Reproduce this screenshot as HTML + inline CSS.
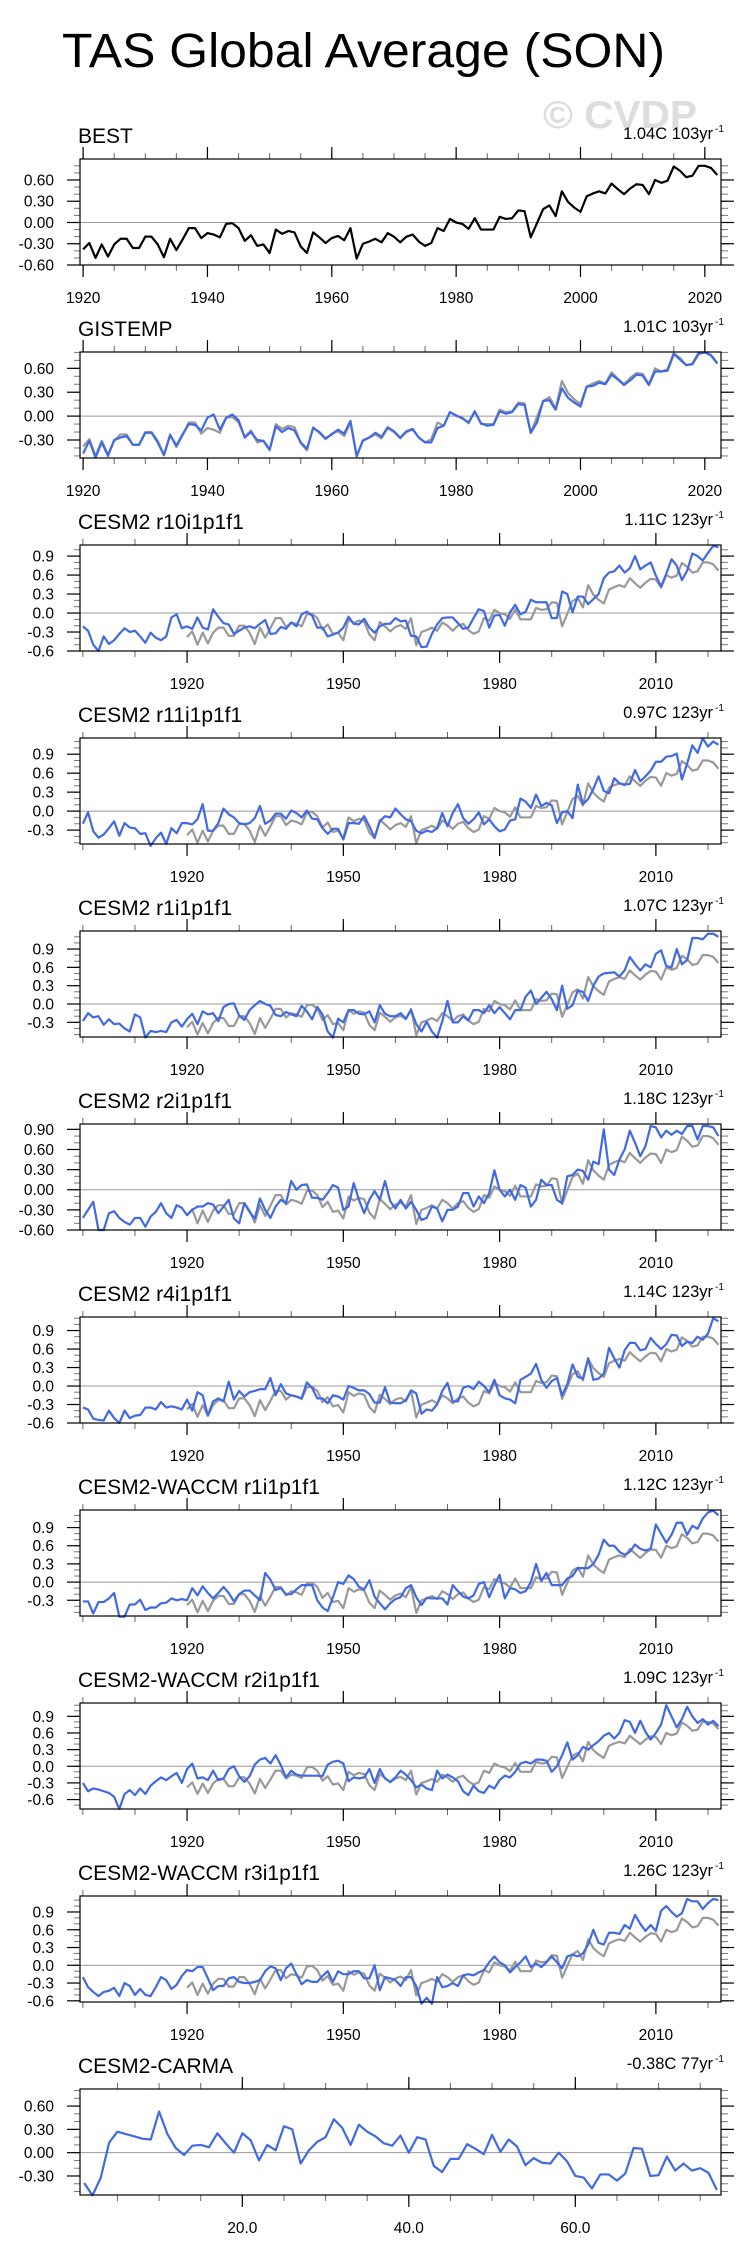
<!DOCTYPE html>
<html><head><meta charset="utf-8"><title>TAS Global Average (SON)</title>
<style>
html,body{margin:0;padding:0;background:#fff;}
svg{display:block;font-family:"Liberation Sans",Arial,sans-serif;}
</style></head>
<body>
<svg id="chart" width="748" height="2265" viewBox="0 0 748 2265" xmlns="http://www.w3.org/2000/svg">
<text x="62" y="67" font-size="48" textLength="603" lengthAdjust="spacingAndGlyphs" fill="#000">TAS Global Average (SON)</text>
<text x="543" y="128" font-size="39" font-weight="bold" fill="#dddddd" textLength="154" lengthAdjust="spacingAndGlyphs">© CVDP</text>
</svg>
<script>
// ---- data ----
const panelTitles = ["BEST","GISTEMP","CESM2 r10i1p1f1","CESM2 r11i1p1f1","CESM2 r1i1p1f1","CESM2 r2i1p1f1","CESM2 r4i1p1f1","CESM2-WACCM r1i1p1f1","CESM2-WACCM r2i1p1f1","CESM2-WACCM r3i1p1f1","CESM2-CARMA"];
const trendValues = ["1.04C 103yr","1.01C 103yr","1.11C 123yr","0.97C 123yr","1.07C 123yr","1.18C 123yr","1.14C 123yr","1.12C 123yr","1.09C 123yr","1.26C 123yr","-0.38C 77yr"];
const obsStartYear = 1920;
const modelStartYear = 1900;
const bestValues = [-0.38,-0.29,-0.50,-0.31,-0.48,-0.31,-0.23,-0.23,-0.36,-0.36,-0.20,-0.20,-0.31,-0.49,-0.23,-0.39,-0.24,-0.08,-0.08,-0.22,
-0.15,-0.17,-0.21,-0.02,-0.01,-0.08,-0.26,-0.18,-0.33,-0.31,-0.43,-0.10,-0.16,-0.12,-0.14,-0.34,-0.43,-0.14,-0.21,-0.29,
-0.22,-0.19,-0.25,-0.08,-0.51,-0.30,-0.27,-0.23,-0.28,-0.15,-0.20,-0.28,-0.20,-0.17,-0.27,-0.33,-0.29,-0.08,-0.12,0.05,
0.00,-0.02,-0.09,0.06,-0.10,-0.10,-0.10,0.08,0.05,0.06,0.17,0.16,-0.21,-0.01,0.19,0.24,0.09,0.44,0.29,0.21,
0.15,0.37,0.41,0.44,0.41,0.55,0.47,0.40,0.48,0.54,0.53,0.40,0.60,0.56,0.59,0.79,0.73,0.64,0.66,0.80,0.80,0.77,0.67];
const gistempValues = [-0.47,-0.31,-0.52,-0.33,-0.50,-0.30,-0.27,-0.25,-0.36,-0.36,-0.21,-0.21,-0.33,-0.49,-0.24,-0.37,-0.23,-0.10,-0.11,-0.18,
-0.02,0.02,-0.17,-0.02,0.02,-0.05,-0.27,-0.20,-0.30,-0.31,-0.42,-0.13,-0.20,-0.15,-0.18,-0.33,-0.41,-0.15,-0.20,-0.28,
-0.23,-0.17,-0.22,-0.06,-0.50,-0.31,-0.27,-0.21,-0.26,-0.14,-0.19,-0.27,-0.19,-0.16,-0.27,-0.33,-0.33,-0.15,-0.12,0.05,
0.01,-0.03,-0.08,0.06,-0.09,-0.12,-0.11,0.06,0.03,0.05,0.15,0.14,-0.21,-0.08,0.19,0.20,0.08,0.35,0.23,0.17,
0.12,0.37,0.38,0.42,0.40,0.52,0.46,0.39,0.45,0.52,0.51,0.39,0.56,0.56,0.57,0.78,0.71,0.64,0.65,0.78,0.80,0.76,0.66];
const r10Values = [-0.21,-0.28,-0.50,-0.60,-0.37,-0.49,-0.43,-0.33,-0.24,-0.30,-0.28,-0.37,-0.47,-0.31,-0.39,-0.43,-0.37,-0.07,-0.02,-0.24,
-0.21,-0.25,-0.07,-0.23,-0.26,0.06,-0.06,-0.16,-0.18,-0.33,-0.28,-0.23,-0.21,-0.24,-0.17,-0.11,-0.33,-0.32,-0.22,-0.25,
-0.15,-0.21,-0.02,0.02,-0.04,-0.23,-0.23,-0.37,-0.34,-0.31,-0.23,-0.06,-0.17,-0.18,-0.09,-0.23,-0.31,-0.21,-0.17,-0.17,
-0.08,-0.13,-0.12,-0.36,-0.37,-0.54,-0.53,-0.33,-0.18,-0.08,-0.07,-0.07,-0.16,-0.25,-0.23,-0.08,0.06,0.03,-0.23,-0.04,
-0.03,-0.20,0.01,0.13,-0.02,0.02,0.21,0.17,0.17,0.17,-0.08,-0.08,0.34,0.30,0.01,0.26,0.26,0.14,0.22,0.30,
0.55,0.64,0.66,0.75,0.64,0.71,0.90,0.69,0.75,0.80,0.59,0.42,0.62,0.85,0.75,0.52,0.67,0.94,0.90,0.83,0.95,1.06,1.04];
const r11Values = [-0.20,-0.02,-0.32,-0.42,-0.37,-0.27,-0.16,-0.39,-0.19,-0.26,-0.27,-0.36,-0.35,-0.55,-0.43,-0.34,-0.52,-0.27,-0.35,-0.19,
-0.19,-0.21,-0.13,0.11,-0.31,-0.31,-0.19,0.04,-0.05,-0.10,-0.19,-0.21,-0.19,-0.11,0.08,-0.20,-0.15,-0.04,-0.04,-0.12,
0.01,-0.03,-0.10,0.01,-0.12,-0.13,-0.27,-0.36,-0.28,-0.28,-0.45,-0.19,-0.19,-0.20,-0.08,-0.24,-0.42,-0.16,-0.08,-0.10,
0.04,-0.05,-0.13,-0.16,-0.31,-0.35,-0.31,-0.33,-0.27,-0.03,-0.24,-0.03,0.11,-0.11,-0.20,-0.13,-0.02,-0.21,-0.13,-0.24,
-0.32,-0.29,-0.15,-0.13,0.20,0.15,0.05,0.26,0.08,0.13,0.09,-0.19,-0.02,0.00,-0.11,0.42,0.11,0.19,0.35,0.55,
0.32,0.28,0.52,0.44,0.42,0.43,0.65,0.47,0.55,0.64,0.78,0.78,0.86,0.87,0.91,0.50,0.75,1.04,0.92,1.15,1.02,1.10,1.05];
const r1Values = [-0.28,-0.15,-0.22,-0.20,-0.34,-0.25,-0.33,-0.32,-0.40,-0.45,-0.17,-0.22,-0.55,-0.44,-0.46,-0.44,-0.46,-0.30,-0.26,-0.37,
-0.25,-0.16,-0.33,-0.12,-0.17,-0.15,-0.28,-0.05,0.00,0.01,-0.19,-0.26,-0.10,-0.02,0.05,0.00,-0.03,-0.18,-0.20,-0.13,
-0.17,-0.20,-0.03,-0.12,-0.25,-0.05,-0.17,-0.45,-0.55,-0.24,-0.30,-0.10,-0.10,-0.16,-0.17,-0.12,-0.30,-0.02,-0.16,-0.20,
-0.20,-0.15,-0.24,-0.10,-0.33,-0.45,-0.29,-0.45,-0.55,-0.28,0.05,-0.30,-0.30,-0.20,-0.27,-0.10,-0.10,-0.15,-0.02,-0.15,
-0.05,-0.15,-0.25,-0.10,-0.10,0.12,0.22,0.00,0.10,0.20,0.08,-0.10,0.30,-0.08,-0.02,0.22,0.20,0.05,0.30,0.45,
0.50,0.51,0.52,0.45,0.55,0.77,0.65,0.55,0.65,0.60,0.82,0.88,0.62,0.60,0.90,0.65,0.72,1.08,1.08,1.06,1.15,1.15,1.10];
const r2Values = [-0.42,-0.30,-0.18,-0.60,-0.60,-0.35,-0.32,-0.42,-0.48,-0.52,-0.42,-0.42,-0.55,-0.40,-0.33,-0.20,-0.35,-0.42,-0.23,-0.27,
-0.38,-0.30,-0.25,-0.25,-0.20,-0.22,-0.35,-0.25,-0.15,-0.43,-0.50,-0.20,-0.33,-0.43,-0.13,-0.30,-0.42,-0.25,-0.15,-0.20,
0.13,0.00,0.07,0.08,-0.12,-0.12,-0.15,-0.05,0.07,0.03,-0.30,-0.25,0.10,-0.15,-0.35,-0.15,-0.02,-0.15,0.13,-0.17,
-0.28,-0.15,-0.28,-0.18,-0.30,-0.45,-0.42,-0.25,-0.28,-0.47,-0.30,-0.30,-0.25,-0.05,-0.05,-0.25,-0.10,-0.20,-0.05,0.29,
0.00,-0.10,0.00,-0.15,0.07,0.03,-0.25,-0.15,0.15,0.07,0.07,-0.15,-0.20,0.20,0.22,0.30,0.28,0.15,0.42,0.38,
0.90,0.30,0.22,0.45,0.60,0.88,0.70,0.50,0.65,0.95,0.93,0.78,0.88,0.82,0.88,0.83,0.95,0.95,0.75,0.95,0.95,0.93,0.80];
const r4Values = [-0.35,-0.38,-0.53,-0.55,-0.56,-0.40,-0.52,-0.60,-0.40,-0.52,-0.48,-0.47,-0.35,-0.35,-0.38,-0.26,-0.35,-0.33,-0.35,-0.38,
-0.22,-0.40,-0.10,-0.15,-0.48,-0.25,-0.20,-0.25,0.07,-0.22,-0.08,-0.17,-0.10,-0.08,-0.05,-0.05,0.13,-0.15,0.03,-0.12,
-0.15,-0.17,-0.20,0.06,-0.03,-0.20,-0.20,-0.28,-0.15,-0.17,-0.22,0.00,-0.03,-0.07,-0.07,-0.13,-0.27,-0.27,-0.02,-0.27,
-0.28,-0.28,-0.23,-0.07,-0.12,-0.45,-0.38,-0.40,-0.30,-0.08,0.05,-0.25,-0.25,-0.03,0.00,-0.05,0.07,0.00,-0.10,0.10,
-0.15,-0.20,-0.22,-0.28,0.10,0.15,0.20,0.36,0.10,-0.03,0.08,0.13,-0.15,0.03,0.35,0.15,0.12,0.45,0.10,0.12,
0.20,0.62,0.45,0.30,0.58,0.70,0.70,0.58,0.60,0.78,0.68,0.60,0.68,0.83,0.82,0.65,0.72,0.70,0.80,0.75,0.85,1.10,1.05];
const waccm1Values = [-0.32,-0.32,-0.52,-0.33,-0.33,-0.27,-0.18,-0.57,-0.57,-0.37,-0.37,-0.29,-0.46,-0.42,-0.42,-0.35,-0.34,-0.27,-0.30,-0.28,
-0.30,-0.10,-0.22,-0.07,-0.18,-0.27,-0.18,-0.08,-0.18,-0.32,-0.20,-0.14,-0.14,-0.22,-0.30,0.15,0.04,-0.13,-0.10,-0.20,
-0.20,-0.12,-0.05,-0.05,-0.05,-0.30,-0.42,-0.48,-0.25,0.00,-0.03,0.11,0.05,-0.08,-0.12,0.03,-0.24,-0.35,-0.45,-0.35,
-0.28,-0.25,-0.10,-0.05,-0.25,-0.38,-0.26,-0.27,-0.27,-0.27,-0.37,-0.05,-0.15,-0.24,-0.27,-0.22,-0.03,0.00,-0.25,-0.05,
0.12,-0.27,-0.10,-0.12,-0.18,-0.15,0.00,0.30,0.02,0.15,-0.05,-0.05,-0.05,0.06,0.10,0.23,0.23,0.23,0.30,0.45,
0.70,0.60,0.60,0.50,0.45,0.50,0.62,0.55,0.52,0.55,0.95,0.80,0.65,0.78,0.98,0.98,0.78,0.93,0.88,1.05,1.15,1.18,1.10];
const waccm2Values = [-0.30,-0.45,-0.40,-0.42,-0.45,-0.48,-0.55,-0.77,-0.50,-0.43,-0.52,-0.40,-0.50,-0.35,-0.27,-0.20,-0.25,-0.18,-0.12,-0.30,
-0.05,0.05,-0.22,-0.20,-0.25,-0.08,-0.25,-0.22,-0.05,0.00,-0.18,-0.28,-0.18,0.03,0.12,0.15,0.05,0.20,0.02,-0.20,
-0.08,-0.15,-0.17,-0.17,-0.17,-0.17,-0.18,0.03,0.08,0.10,0.05,-0.27,-0.20,-0.22,-0.20,-0.05,-0.30,-0.05,-0.22,-0.28,
-0.20,-0.08,-0.15,-0.25,-0.38,-0.33,-0.40,-0.43,-0.08,-0.22,-0.15,-0.20,-0.27,-0.45,-0.52,-0.35,-0.45,-0.48,-0.35,-0.40,
-0.25,-0.17,-0.20,-0.10,0.05,0.08,0.05,0.12,0.12,0.10,-0.10,0.00,0.20,0.43,0.12,0.20,0.35,0.30,0.38,0.45,
0.55,0.60,0.50,0.60,0.83,0.80,0.60,0.82,0.62,0.48,0.60,0.75,1.10,0.90,0.70,0.85,1.07,0.90,0.78,0.85,0.75,0.82,0.72];
const waccm3Values = [-0.20,-0.37,-0.45,-0.52,-0.45,-0.43,-0.38,-0.52,-0.30,-0.35,-0.50,-0.40,-0.50,-0.52,-0.37,-0.20,-0.25,-0.40,-0.33,-0.18,
-0.08,-0.10,-0.03,-0.03,-0.22,-0.42,-0.35,-0.35,-0.22,-0.20,-0.28,-0.30,-0.30,-0.28,-0.25,-0.10,-0.02,-0.05,-0.25,-0.05,
0.03,-0.15,-0.32,-0.25,-0.28,-0.28,-0.18,-0.10,-0.28,-0.10,-0.15,-0.15,-0.10,-0.10,-0.22,-0.22,0.00,-0.42,-0.20,-0.22,
-0.25,-0.35,-0.20,-0.20,-0.35,-0.65,-0.55,-0.65,-0.20,-0.37,-0.35,-0.30,-0.35,-0.17,-0.15,-0.17,-0.12,-0.08,0.05,0.15,
0.05,0.00,-0.12,-0.03,0.05,0.15,-0.03,0.03,-0.03,0.05,0.15,0.05,-0.05,0.15,0.18,0.15,0.20,0.35,0.60,0.38,
0.35,0.55,0.55,0.53,0.68,0.62,0.85,0.70,0.58,0.68,0.58,0.92,1.00,0.90,0.82,0.88,1.12,1.08,1.08,0.95,1.05,1.12,1.10];
const carmaValues = [-0.39,-0.55,-0.32,0.13,0.27,0.24,0.21,0.18,0.17,0.53,0.24,0.06,-0.03,0.09,0.10,0.07,0.25,0.12,0.00,0.25,
0.16,-0.10,0.10,0.03,0.34,0.30,-0.14,0.03,0.14,0.20,0.43,0.32,0.10,0.36,0.27,0.21,0.12,0.09,0.22,0.00,
0.20,0.17,-0.17,-0.25,-0.08,-0.08,0.11,0.05,-0.02,0.23,0.01,0.17,0.08,-0.16,-0.07,-0.13,-0.14,0.00,-0.11,-0.30,
-0.32,-0.46,-0.28,-0.28,-0.36,-0.27,0.06,0.05,-0.30,-0.29,-0.05,-0.23,-0.14,-0.23,-0.20,-0.26,-0.48];
// y-axis tick labels per panel
const yTicksBest = ["0.60","0.30","0.00","-0.30","-0.60"];
const yTicksGis = ["0.60","0.30","0.00","-0.30"];
const yTicksR10 = ["0.9","0.6","0.3","0.0","-0.3","-0.6"];
const yTicksR11 = ["0.9","0.6","0.3","0.0","-0.3"];
const yTicksR1 = ["0.9","0.6","0.3","0.0","-0.3"];
const yTicksR2 = ["0.90","0.60","0.30","0.00","-0.30","-0.60"];
const yTicksR4 = ["0.9","0.6","0.3","0.0","-0.3","-0.6"];
const yTicksW1 = ["0.9","0.6","0.3","0.0","-0.3"];
const yTicksW2 = ["0.9","0.6","0.3","0.0","-0.3","-0.6"];
const yTicksW3 = ["0.9","0.6","0.3","0.0","-0.3","-0.6"];
const yTicksCarma = ["0.60","0.30","0.00","-0.30"];
// x-axis tick labels
const xTicksObs = ["1920","1940","1960","1980","2000","2020"];
const xTicksModel = ["1920","1950","1980","2010"];
const xTicksCarma = ["20.0","40.0","60.0"];
// axis ranges (value space)
const yRangeMin = [-0.6,-0.526,-0.6,-0.52,-0.54,-0.6,-0.6,-0.56,-0.77,-0.62,-0.545];
const yRangeMax = [0.896,0.805,1.075,1.156,1.195,0.98,1.12,1.19,1.14,1.17,0.82];

// ---- drawing ----
const svg = document.getElementById('chart');
const NS = 'http://www.w3.org/2000/svg';
const BOX_L = 80, BOX_R = 721, BOX_H = 106, TOP0 = 159, STEP = 193;
const BLUE = '#4169e1', GRAY = '#999999';

function mk(tag, attrs, parent){
  const e = document.createElementNS(NS, tag);
  for (const k in attrs) e.setAttribute(k, attrs[k]);
  (parent || svg).appendChild(e);
  return e;
}

function drawPanel(k, cfg){
  const top = TOP0 + STEP*k, bot = top + BOX_H;
  const g = mk('g', {});
  
  
  const xs = v => BOX_L + (v - cfg.xmin)/(cfg.xmax - cfg.xmin)*(BOX_R - BOX_L);
  const ys = v => bot - (v - yRangeMin[k])/(yRangeMax[k] - yRangeMin[k])*BOX_H;

  const t = mk('text', {x:78, y:top-16, 'font-size':21, fill:'#000'}, g);
  t.textContent = panelTitles[k];
  
  
  const tr = mk('text', {x:713, y:top-20, 'font-size':16.5, fill:'#000', 'text-anchor':'end'}, g);
  tr.textContent = trendValues[k];
  
  
  const sup = mk('text', {x:715, y:top-27, 'font-size':10, fill:'#000'}, g);
  sup.textContent = '-1';
  
  

  const z = mk('line', {x1:BOX_L, x2:BOX_R, y1:ys(0), y2:ys(0), stroke:'#999', 'stroke-width':1}, g);
  
  

  for (let v = cfg.minorStart; v <= cfg.xmax; v += cfg.minorStep){
    const X = xs(v);
    if (X < BOX_L - 0.5 || X > BOX_R + 0.5) continue;
    mk('line', {x1:X, x2:X, y1:top, y2:top-6, stroke:'#666', 'stroke-width':1}, g);
    mk('line', {x1:X, x2:X, y1:bot, y2:bot+6, stroke:'#666', 'stroke-width':1}, g);
  }
  cfg.xLabels.forEach(lab => {
    const v = parseFloat(lab);
    const X = xs(v);
    mk('line', {x1:X, x2:X, y1:top, y2:top-12, stroke:'#000', 'stroke-width':1.2}, g);
    mk('line', {x1:X, x2:X, y1:bot, y2:bot+12, stroke:'#000', 'stroke-width':1.2}, g);
    const tl = mk('text', {x:X, y:bot+38, 'font-size':15.5, 'text-anchor':'middle', fill:'#000'}, g);
    tl.textContent = lab;
    
    
  });

  const yMajors = cfg.yLabels.map(parseFloat);
  const major = yMajors.length > 1 ? Math.abs(yMajors[0]-yMajors[1]) : 0.3;
  const minor = major/3;
  for (let v = Math.ceil(yRangeMin[k]/minor - 1e-6)*minor; v <= yRangeMax[k] + 1e-6; v += minor){
    const Y = ys(v);
    mk('line', {x1:BOX_L, x2:BOX_L-6, y1:Y, y2:Y, stroke:'#777', 'stroke-width':1}, g);
    mk('line', {x1:BOX_R, x2:BOX_R+7, y1:Y, y2:Y, stroke:'#777', 'stroke-width':1}, g);
  }
  cfg.yLabels.forEach(lab => {
    const Y = ys(parseFloat(lab));
    mk('line', {x1:BOX_L, x2:BOX_L-13, y1:Y, y2:Y, stroke:'#000', 'stroke-width':1.2}, g);
    mk('line', {x1:BOX_R, x2:BOX_R+13, y1:Y, y2:Y, stroke:'#000', 'stroke-width':1.2}, g);
    const yl = mk('text', {x:54, y:Y+5.5, 'font-size':15.5, 'text-anchor':'end', fill:'#000'}, g);
    yl.textContent = lab;
    
    
  });

  cfg.series.forEach(s => {
    const pts = s.vals.map((v,i) => xs(s.x0 + i).toFixed(2) + ',' + ys(v).toFixed(2)).join(' ');
    const pl = mk('polyline', {points:pts, fill:'none', stroke:s.color, 'stroke-width':2.2, 'stroke-linejoin':'round'}, g);
    
    
  });

  const b = mk('rect', {x:BOX_L, y:top, width:BOX_R-BOX_L, height:BOX_H, fill:'none', stroke:'#000', 'stroke-width':1.2}, g);
  
  
}

const obsX = {xmin:1919.5, xmax:2022.6, minorStart:1920, minorStep:5, xLabels:xTicksObs};
const modX = {xmin:1899.45, xmax:2022.5, minorStart:1900, minorStep:10, xLabels:xTicksModel};
const modelSets = [
  ['cesm2-r10', r10Values, yTicksR10],
  ['cesm2-r11', r11Values, yTicksR11],
  ['cesm2-r1', r1Values, yTicksR1],
  ['cesm2-r2', r2Values, yTicksR2],
  ['cesm2-r4', r4Values, yTicksR4],
  ['waccm-r1', waccm1Values, yTicksW1],
  ['waccm-r2', waccm2Values, yTicksW2],
  ['waccm-r3', waccm3Values, yTicksW3]
];

drawPanel(0, Object.assign({slug:'best', yLabels:yTicksBest,
  series:[{x0:obsStartYear, vals:bestValues, color:'#000', name:'best-series'}]}, obsX));
drawPanel(1, Object.assign({slug:'gistemp', yLabels:yTicksGis,
  series:[{x0:obsStartYear, vals:bestValues, color:GRAY, name:'obs-reference-series'},
          {x0:obsStartYear, vals:gistempValues, color:BLUE, name:'gistemp-series'}]}, obsX));
modelSets.forEach((m, i) => {
  drawPanel(2+i, Object.assign({slug:m[0], yLabels:m[2],
    series:[{x0:obsStartYear, vals:bestValues, color:GRAY, name:'obs-reference-series'},
            {x0:modelStartYear, vals:m[1], color:BLUE, name:'model-series'}]}, modX));
});
drawPanel(10, {slug:'cesm2-carma', yLabels:yTicksCarma, xmin:0.5, xmax:77.5, minorStart:5, minorStep:5, xLabels:xTicksCarma,
  series:[{x0:1, vals:carmaValues, color:BLUE, name:'carma-series'}]});
</script>
</body></html>
